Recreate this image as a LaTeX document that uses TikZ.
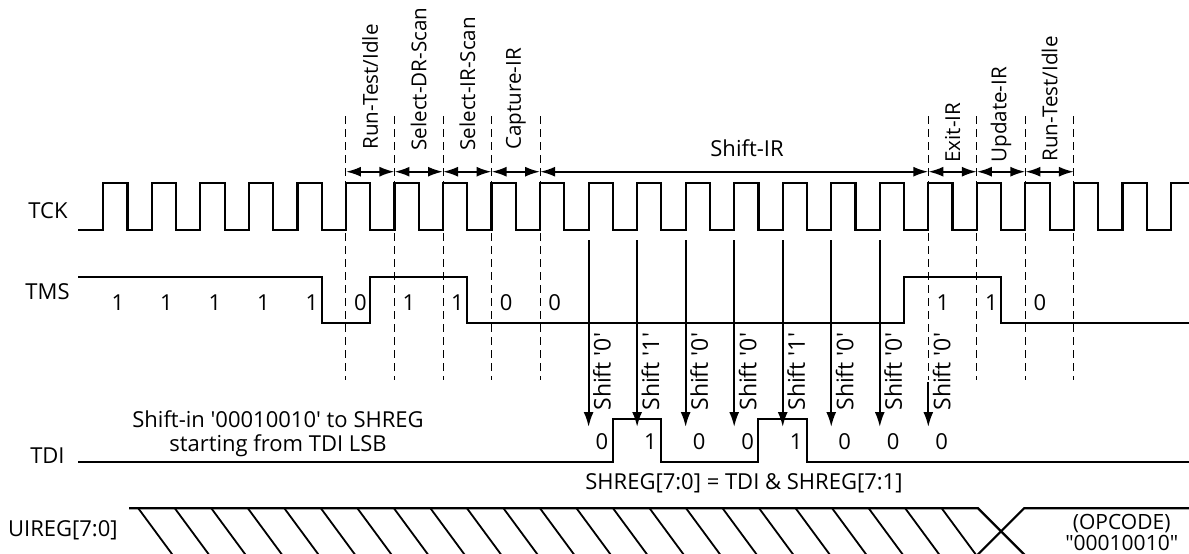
\documentclass[tikz,border=0pt]{standalone}
\usepackage{fontspec}
\setmainfont{Open Sans}
\usepackage{tikz}
\usetikzlibrary{arrows.meta}

\newcommand{\tq}{\textquotesingle}

\begin{document}
\begin{tikzpicture}[x=0.5pt,y=-0.5pt,>={Latex[length=7.5pt,width=5pt]},
    wave/.style={line width=1.1pt},
    edgeline/.style={line width=0.5pt,dash pattern=on 4pt off 2.5pt},
    lbl/.style={inner sep=0pt,font=\fontsize{11}{12}\selectfont},
    statelbl/.style={lbl,font=\fontsize{10.3}{12}\selectfont,rotate=90,anchor=west},
    shiftlbl/.style={lbl,font=\fontsize{11.5}{12}\selectfont,rotate=90,anchor=west},
    hatch/.style={line width=0.9pt}]
  \useasboundingbox (0,0) rectangle (1189,553);
  \clip (0,0) rectangle (1189,553);

  \node[lbl,anchor=base east] (tck) at (68,218) {TCK};
  \node[lbl,anchor=base east] (tms) at (70,299) {TMS};
  \node[lbl,anchor=base east] (tdi) at (65,463) {TDI};
  \node[lbl,anchor=base east] (uireg) at (118,536) {UIREG[7:0]};

  \draw[wave] (78,230) foreach \k in {0,...,21} {
      -- ({103.3+48.53*\k},230) -- ++(0,-47) -- ++(24.26,0) -- ++(0,47)}
    -- (1171,230) -- (1171,183) -- (1189,183);
  \draw[wave] (78,276.7) -- (321.7,276.7) -- (321.7,323.3) -- (370.2,323.3) -- (370.2,276.7)
    -- (467.2,276.7) -- (467.2,323.3) -- (903.7,323.3) -- (903.7,276.7)
    -- (1000.7,276.7) -- (1000.7,323.3) -- (1189,323.3);
  \draw[wave] (78,462.3) -- (612.7,462.3) -- (612.7,419) -- (661.2,419) -- (661.2,462.3)
    -- (758.2,462.3) -- (758.2,419) -- (806.7,419) -- (806.7,462.3) -- (1189,462.3);

  \foreach \k in {5,6,7,8,9,17,18,19,20} {
    \draw[edgeline] ({103.3+48.53*\k},116) -- ({103.3+48.53*\k},380);
    \coordinate (e\k) at ({103.3+48.53*\k},171.7);
  }
  \foreach \a/\b/\name/\y in {5/6/{Run-Test/Idle}/150,6/7/Select-DR-Scan/151,
      7/8/Select-IR-Scan/151,8/9/Capture-IR/150,17/18/Exit-IR/163,
      18/19/Update-IR/163,19/20/{Run-Test/Idle}/162} {
    \draw[line width=1pt,<->] (e\a) -- (e\b);
    \node[statelbl] (s\a) at ({103.3+48.53*(\a+0.5)},\y) {\name};
  }
  \draw[line width=1pt,<->] (e9) -- (e17);
  \node[lbl,anchor=base] (shiftir) at (747,156.7) {Shift-IR};

  \foreach \k/\v in {0/1,1/1,2/1,3/1,4/1,5/0,6/1,7/1,8/0,9/0,17/1,18/1,19/0}
    \node[lbl,anchor=base] (m\k) at ({117.8+48.53*\k},310) {\v};

  \foreach \k/\v/\top in {10/0/240,11/1/240,12/0/240,13/0/240,14/1/240,
      15/0/240,16/0/240,17/0/382} {
    \coordinate (p\k) at ({103.3+48.53*\k},\top);
    \coordinate (q\k) at ({103.3+48.53*\k},427);
    \draw[line width=1pt,->] (p\k) -- (q\k);
    \node[shiftlbl] (sh\k) at ({116.7+48.53*\k},411) {Shift \tq\v\tq};
    \node[lbl,anchor=base] (t\k) at ({116.7+48.53*\k},449) {\v};
  }

  \node[lbl,align=center] (note) at (278,434) {Shift-in \tq 00010010\tq{} to SHREG\\starting from TDI LSB};
  \node[lbl,anchor=base west] (shreg) at (585,489) {SHREG[7:0] = TDI \& SHREG[7:1]};

  \draw[wave] (129,508.3) -- (978,508.3) -- (1026.3,556.6);
  \draw[wave] (975.7,556.6) -- (1024,508.3) -- (1189,508.3);
  \foreach \k in {0,...,22}
    \draw[hatch] ({138.3+36.52*\k},508.3) -- ++(35.6,48.3);
  \node[lbl,align=center,font=\fontsize{10.5}{9}\selectfont,anchor=south] (opcode) at (1121.7,551) {(OPCODE)\\\textquotedbl 00010010\textquotedbl};
\end{tikzpicture}
\end{document}
